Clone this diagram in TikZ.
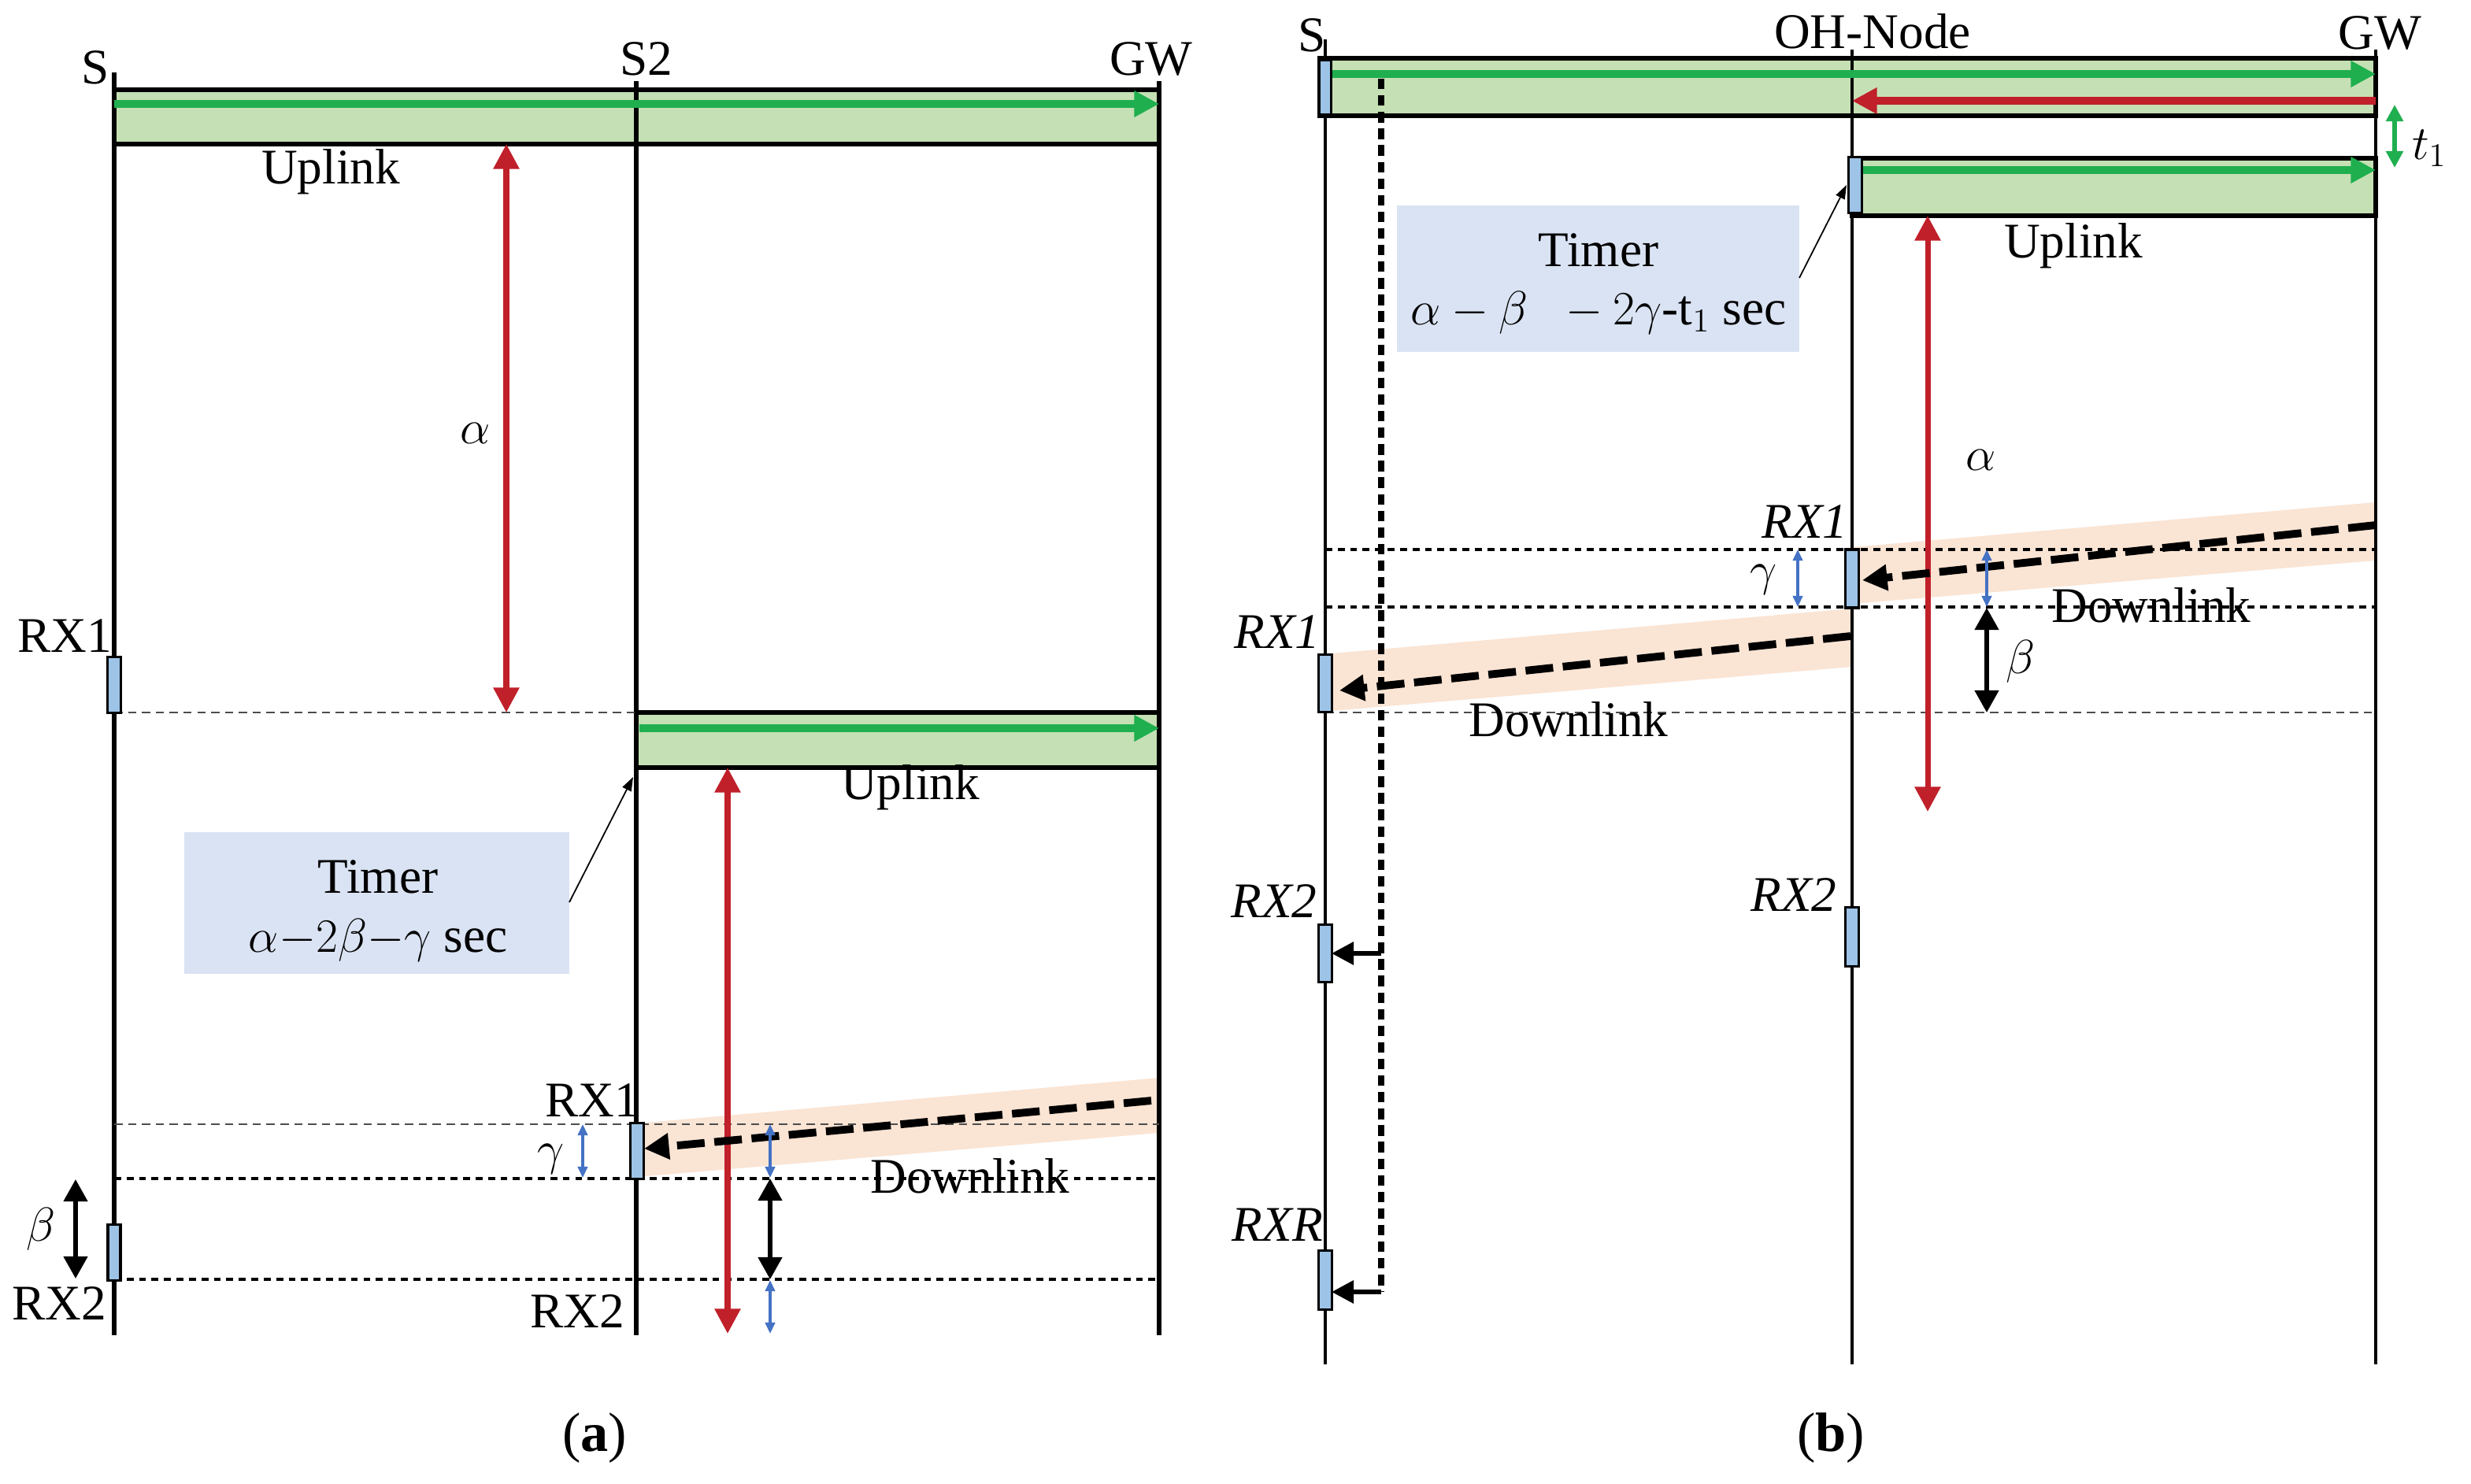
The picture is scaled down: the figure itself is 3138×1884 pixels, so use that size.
\documentclass[tikz,border=0pt]{standalone}
\usepackage{fontspec}
\setmainfont{Liberation Serif}
\usetikzlibrary{arrows.meta,calc}
\definecolor{upfill}{HTML}{C5E0B4}
\definecolor{upgreen}{HTML}{1FAF4F}
\definecolor{darkred}{HTML}{C0202A}
\definecolor{rxblue}{HTML}{9DC3E6}
\definecolor{timerfill}{HTML}{DAE3F3}
\definecolor{peach}{HTML}{FAE4D4}
\definecolor{gblue}{HTML}{4472C4}
\tikzset{
 life/.style={line width=1.7pt},
 lifeb/.style={line width=1.4pt},
 upbox/.style={draw=black, fill=upfill, line width=1.5pt},
 rxbox/.style={draw=black, fill=rxblue, line width=1.1pt, inner sep=0pt, minimum width=0.17cm},
 lbl/.style={font=\fontsize{18}{21}\selectfont, inner sep=0pt},
 figcap/.style={font=\fontsize{20}{24}\selectfont, inner sep=0pt},
 garrow/.style={draw=upgreen, line width=3pt, -{Triangle[length=9pt,width=9pt]}},
 garrowd/.style={draw=upgreen, line width=1.6pt, {Triangle[length=6pt,width=6pt]}-{Triangle[length=6pt,width=6pt]}},
 rarrow/.style={draw=darkred, line width=2pt, {Triangle[length=9pt,width=9pt]}-{Triangle[length=9pt,width=9pt]}},
 rarrowh/.style={draw=darkred, line width=2.7pt, -{Triangle[length=9pt,width=9pt]}},
 barrow/.style={draw=gblue, line width=0.9pt, {Triangle[length=4pt,width=3.5pt]}-{Triangle[length=4pt,width=3.5pt]}},
 karrow/.style={draw=black, line width=1.5pt, {Triangle[length=8pt,width=8.5pt]}-{Triangle[length=8pt,width=8.5pt]}},
 dlarrow/.style={draw=black, line width=2.8pt, dash pattern=on 10pt off 3.5pt, -{Triangle[length=9pt,width=9pt]}},
 rxrline/.style={draw=black, line width=2.2pt, dash pattern=on 3.8pt off 2.2pt},
 rxrarrow/.style={draw=black, line width=1.8pt, -{Triangle[length=8pt,width=8pt]}},
 band/.style={fill=peach, draw=none},
 dotln/.style={line width=0.9pt, dash pattern=on 2.5pt off 2pt},
 gdash/.style={line width=0.5pt, black!70, dash pattern=on 3pt off 2pt},
 timerbox/.style={fill=timerfill, draw=none},
 pointer/.style={line width=0.5pt, -{Triangle[length=5pt,width=3.5pt]}},
}
\begin{document}
\begin{tikzpicture}[x=0.01cm,y=-0.01cm]
\useasboundingbox (0,0) rectangle (3138,1884);
% ===================== panel (a) =====================
\coordinate (aS0) at (145,92);   \coordinate (aSe) at (145,1696);
\coordinate (aM0) at (808,103);  \coordinate (aMe) at (808,1696);
\coordinate (aG0) at (1472,103); \coordinate (aGe) at (1472,1696);
\draw[upbox] (145,114) rectangle (1472,183);
\draw[upbox] (808,905) rectangle (1472,975);
\fill[band] (808,1427) -- (1472,1369) -- (1472,1439) -- (808,1495) -- cycle;
\node[timerbox, minimum width=4.89cm, minimum height=1.8cm, inner sep=0pt] (aTimer) at (478.5,1147) {};
\draw[life] (aS0) -- (aSe);
\draw[life] (aM0) -- (aMe);
\draw[life] (aG0) -- (aGe);
\coordinate (aL1a) at (145,905);  \coordinate (aL1b) at (808,905);
\coordinate (aL2a) at (145,1428); \coordinate (aL2b) at (1472,1428);
\coordinate (aL3a) at (145,1497); \coordinate (aL3b) at (1472,1497);
\coordinate (aL4a) at (145,1625); \coordinate (aL4b) at (1472,1625);
\draw[gdash] (aL1a) -- (aL1b);
\draw[gdash] (aL2a) -- (aL2b);
\draw[dotln] (aL3a) -- (aL3b);
\draw[dotln] (aL4a) -- (aL4b);
\coordinate (aU1a) at (145,132); \coordinate (aU1b) at (1472,132);
\coordinate (aU2a) at (812,925); \coordinate (aU2b) at (1472,925);
\draw[garrow] (aU1a) -- (aU1b);
\draw[garrow] (aU2a) -- (aU2b);
\coordinate (aR1a) at (643,183); \coordinate (aR1b) at (643,905);
\coordinate (aR2a) at (924,975); \coordinate (aR2b) at (924,1694);
\draw[rarrow] (aR1a) -- (aR1b);
\draw[rarrow] (aR2a) -- (aR2b);
\coordinate (aD1a) at (1462,1398); \coordinate (aD1b) at (818,1459);
\draw[dlarrow] (aD1a) -- (aD1b);
\coordinate (aG1a) at (740,1428); \coordinate (aG1b) at (740,1496);
\coordinate (aG2a) at (978,1428); \coordinate (aG2b) at (978,1496);
\coordinate (aB2a) at (978,1497); \coordinate (aB2b) at (978,1625);
\coordinate (aG3a) at (978,1626); \coordinate (aG3b) at (978,1694);
\coordinate (aB1a) at (96,1498);  \coordinate (aB1b) at (96,1624);
\draw[barrow] (aG1a) -- (aG1b);
\draw[barrow] (aG2a) -- (aG2b);
\draw[karrow] (aB2a) -- (aB2b);
\draw[barrow] (aG3a) -- (aG3b);
\draw[karrow] (aB1a) -- (aB1b);
\node[rxbox, minimum height=0.71cm] (aRX1S) at (145,870) {};
\node[rxbox, minimum height=0.71cm] (aRX1M) at (809,1462) {};
\node[rxbox, minimum width=0.16cm, minimum height=0.71cm] (aRX2S) at (145,1591) {};
\coordinate (aP1) at (723,1146); \coordinate (aP2) at (804,987);
\draw[pointer] (aP1) -- (aP2);
\node[lbl] (aSl) at (121,86) {S};
\node[lbl] (aS2l) at (821,75) {S2};
\node[lbl] (aGWl) at (1462,75) {GW};
\node[lbl] (aUp1) at (420,218) {Uplink};
\node[lbl] (aUp2) at (1156,1000) {Uplink};
\node[lbl] (aAl) at (604,550) {$\alpha$};
\node[lbl] (aRX1l) at (82,808) {RX1};
\node[lbl] (aRX1ml) at (752,1398) {RX1};
\node[lbl] (aGaml) at (700,1472) {$\gamma$};
\node[lbl] (aDl) at (1232,1494) {Downlink};
\node[lbl] (aBl) at (52,1561) {$\beta$};
\node[lbl] (aRX2l) at (75,1656) {RX2};
\node[lbl] (aRX2ml) at (733,1666) {RX2};
\node[lbl] (aT1) at (480,1114) {Timer};
\node[lbl] (aT2) at (480,1194) {$\alpha{-}2\beta{-}\gamma$ sec};
\node[figcap] (aCap) at (755,1827) {(\textbf{a})};
% ===================== panel (b) =====================
\coordinate (bS0) at (1683,50);   \coordinate (bSe) at (1683,1733);
\coordinate (bO0) at (2352,63);   \coordinate (bOe) at (2352,1733);
\coordinate (bG0) at (3017,63);   \coordinate (bGe) at (3017,1733);
\draw[upbox] (1676,74) rectangle (3017,147);
\draw[upbox] (2352,201) rectangle (3017,274);
\fill[band] (2352,695) -- (3017,638) -- (3017,712) -- (2352,767) -- cycle;
\fill[band] (2352,773) -- (1691,830) -- (1691,903) -- (2352,847) -- cycle;
\node[timerbox, minimum width=5.11cm, minimum height=1.86cm, inner sep=0pt] (bTimer) at (2029.5,354) {};
\draw[lifeb] (bS0) -- (bSe);
\draw[lifeb] (bO0) -- (bOe);
\draw[lifeb] (bG0) -- (bGe);
\coordinate (bL1a) at (1683,698); \coordinate (bL1b) at (3017,698);
\coordinate (bL2a) at (1683,771); \coordinate (bL2b) at (3017,771);
\coordinate (bL3a) at (1683,905); \coordinate (bL3b) at (3017,905);
\draw[dotln] (bL1a) -- (bL1b);
\draw[dotln] (bL2a) -- (bL2b);
\draw[gdash] (bL3a) -- (bL3b);
\coordinate (bV0) at (1754,100); \coordinate (bV1) at (1754,1641);
\coordinate (bA1a) at (1754,1211); \coordinate (bA1b) at (1691,1211);
\coordinate (bA2b) at (1691,1641);
\draw[rxrline] (bV0) -- (bV1);
\draw[rxrarrow] (bA1a) -- (bA1b);
\draw[rxrarrow] (bV1) -- (bA2b);
\coordinate (bU1a) at (1691,94);  \coordinate (bU1b) at (3017,94);
\coordinate (bR1a) at (3017,128); \coordinate (bR1b) at (2352,128);
\coordinate (bU2a) at (2365,216); \coordinate (bU2b) at (3017,216);
\draw[garrow] (bU1a) -- (bU1b);
\draw[rarrowh] (bR1a) -- (bR1b);
\draw[garrow] (bU2a) -- (bU2b);
\coordinate (bT1a) at (3041,133); \coordinate (bT1b) at (3041,213);
\draw[garrowd] (bT1a) -- (bT1b);
\coordinate (bRa) at (2448,274); \coordinate (bRb) at (2448,1031);
\draw[rarrow] (bRa) -- (bRb);
\coordinate (bD1a) at (3017,667); \coordinate (bD1b) at (2365,737);
\coordinate (bD2a) at (2350,808); \coordinate (bD2b) at (1701,877);
\draw[dlarrow] (bD1a) -- (bD1b);
\draw[dlarrow] (bD2a) -- (bD2b);
\coordinate (bG1a) at (2283,698); \coordinate (bG1b) at (2283,771);
\coordinate (bG2a) at (2523,698); \coordinate (bG2b) at (2523,771);
\coordinate (bB2a) at (2523,772); \coordinate (bB2b) at (2523,905);
\draw[barrow] (bG1a) -- (bG1b);
\draw[barrow] (bG2a) -- (bG2b);
\draw[karrow] (bB2a) -- (bB2b);
\node[rxbox, minimum width=0.15cm, minimum height=0.70cm] (bTX) at (1683,111) {};
\node[rxbox, minimum height=0.71cm] (bRXo) at (2356,235) {};
\node[rxbox, minimum height=0.74cm] (bRX1o) at (2352,735) {};
\node[rxbox, minimum height=0.73cm] (bRX1s) at (1683,868) {};
\node[rxbox, minimum height=0.73cm] (bRX2s) at (1683,1211) {};
\node[rxbox, minimum height=0.75cm] (bRXRs) at (1683,1626) {};
\node[rxbox, minimum height=0.75cm] (bRX2o) at (2352,1190) {};
\coordinate (bP1) at (2285,353); \coordinate (bP2) at (2345,235);
\draw[pointer] (bP1) -- (bP2);
\node[lbl] (bSl) at (1666,45) {S};
\node[lbl] (bOHl) at (2378,40) {OH-Node};
\node[lbl] (bGWl) at (3022,42) {GW};
\node[lbl] (bt1) at (3085,188) {$t_1$};
\node[lbl] (bUp) at (2633,312) {Uplink};
\node[lbl] (bT1) at (2030,318) {Timer};
\node[lbl] (bT2) at (2030,397) {$\alpha-\beta\;\;-2\gamma$-t$_1$ sec};
\node[lbl] (bAl) at (2516,584) {$\alpha$};
\node[lbl] (bRX1ol) at (2292,663) {\textit{RX1}};
\node[lbl] (bGaml) at (2240,736) {$\gamma$};
\node[lbl] (bDl1) at (2732,769) {Downlink};
\node[lbl] (bBl) at (2566,840) {$\beta$};
\node[lbl] (bRX1sl) at (1622,803) {\textit{RX1}};
\node[lbl] (bDl2) at (1992,914) {Downlink};
\node[lbl] (bRX2sl) at (1618,1145) {\textit{RX2}};
\node[lbl] (bRX2ol) at (2278,1137) {\textit{RX2}};
\node[lbl] (bRXRl) at (1622,1556) {\textit{RXR}};
\node[figcap] (bCap) at (2325,1827) {(\textbf{b})};
\end{tikzpicture}
\end{document}
